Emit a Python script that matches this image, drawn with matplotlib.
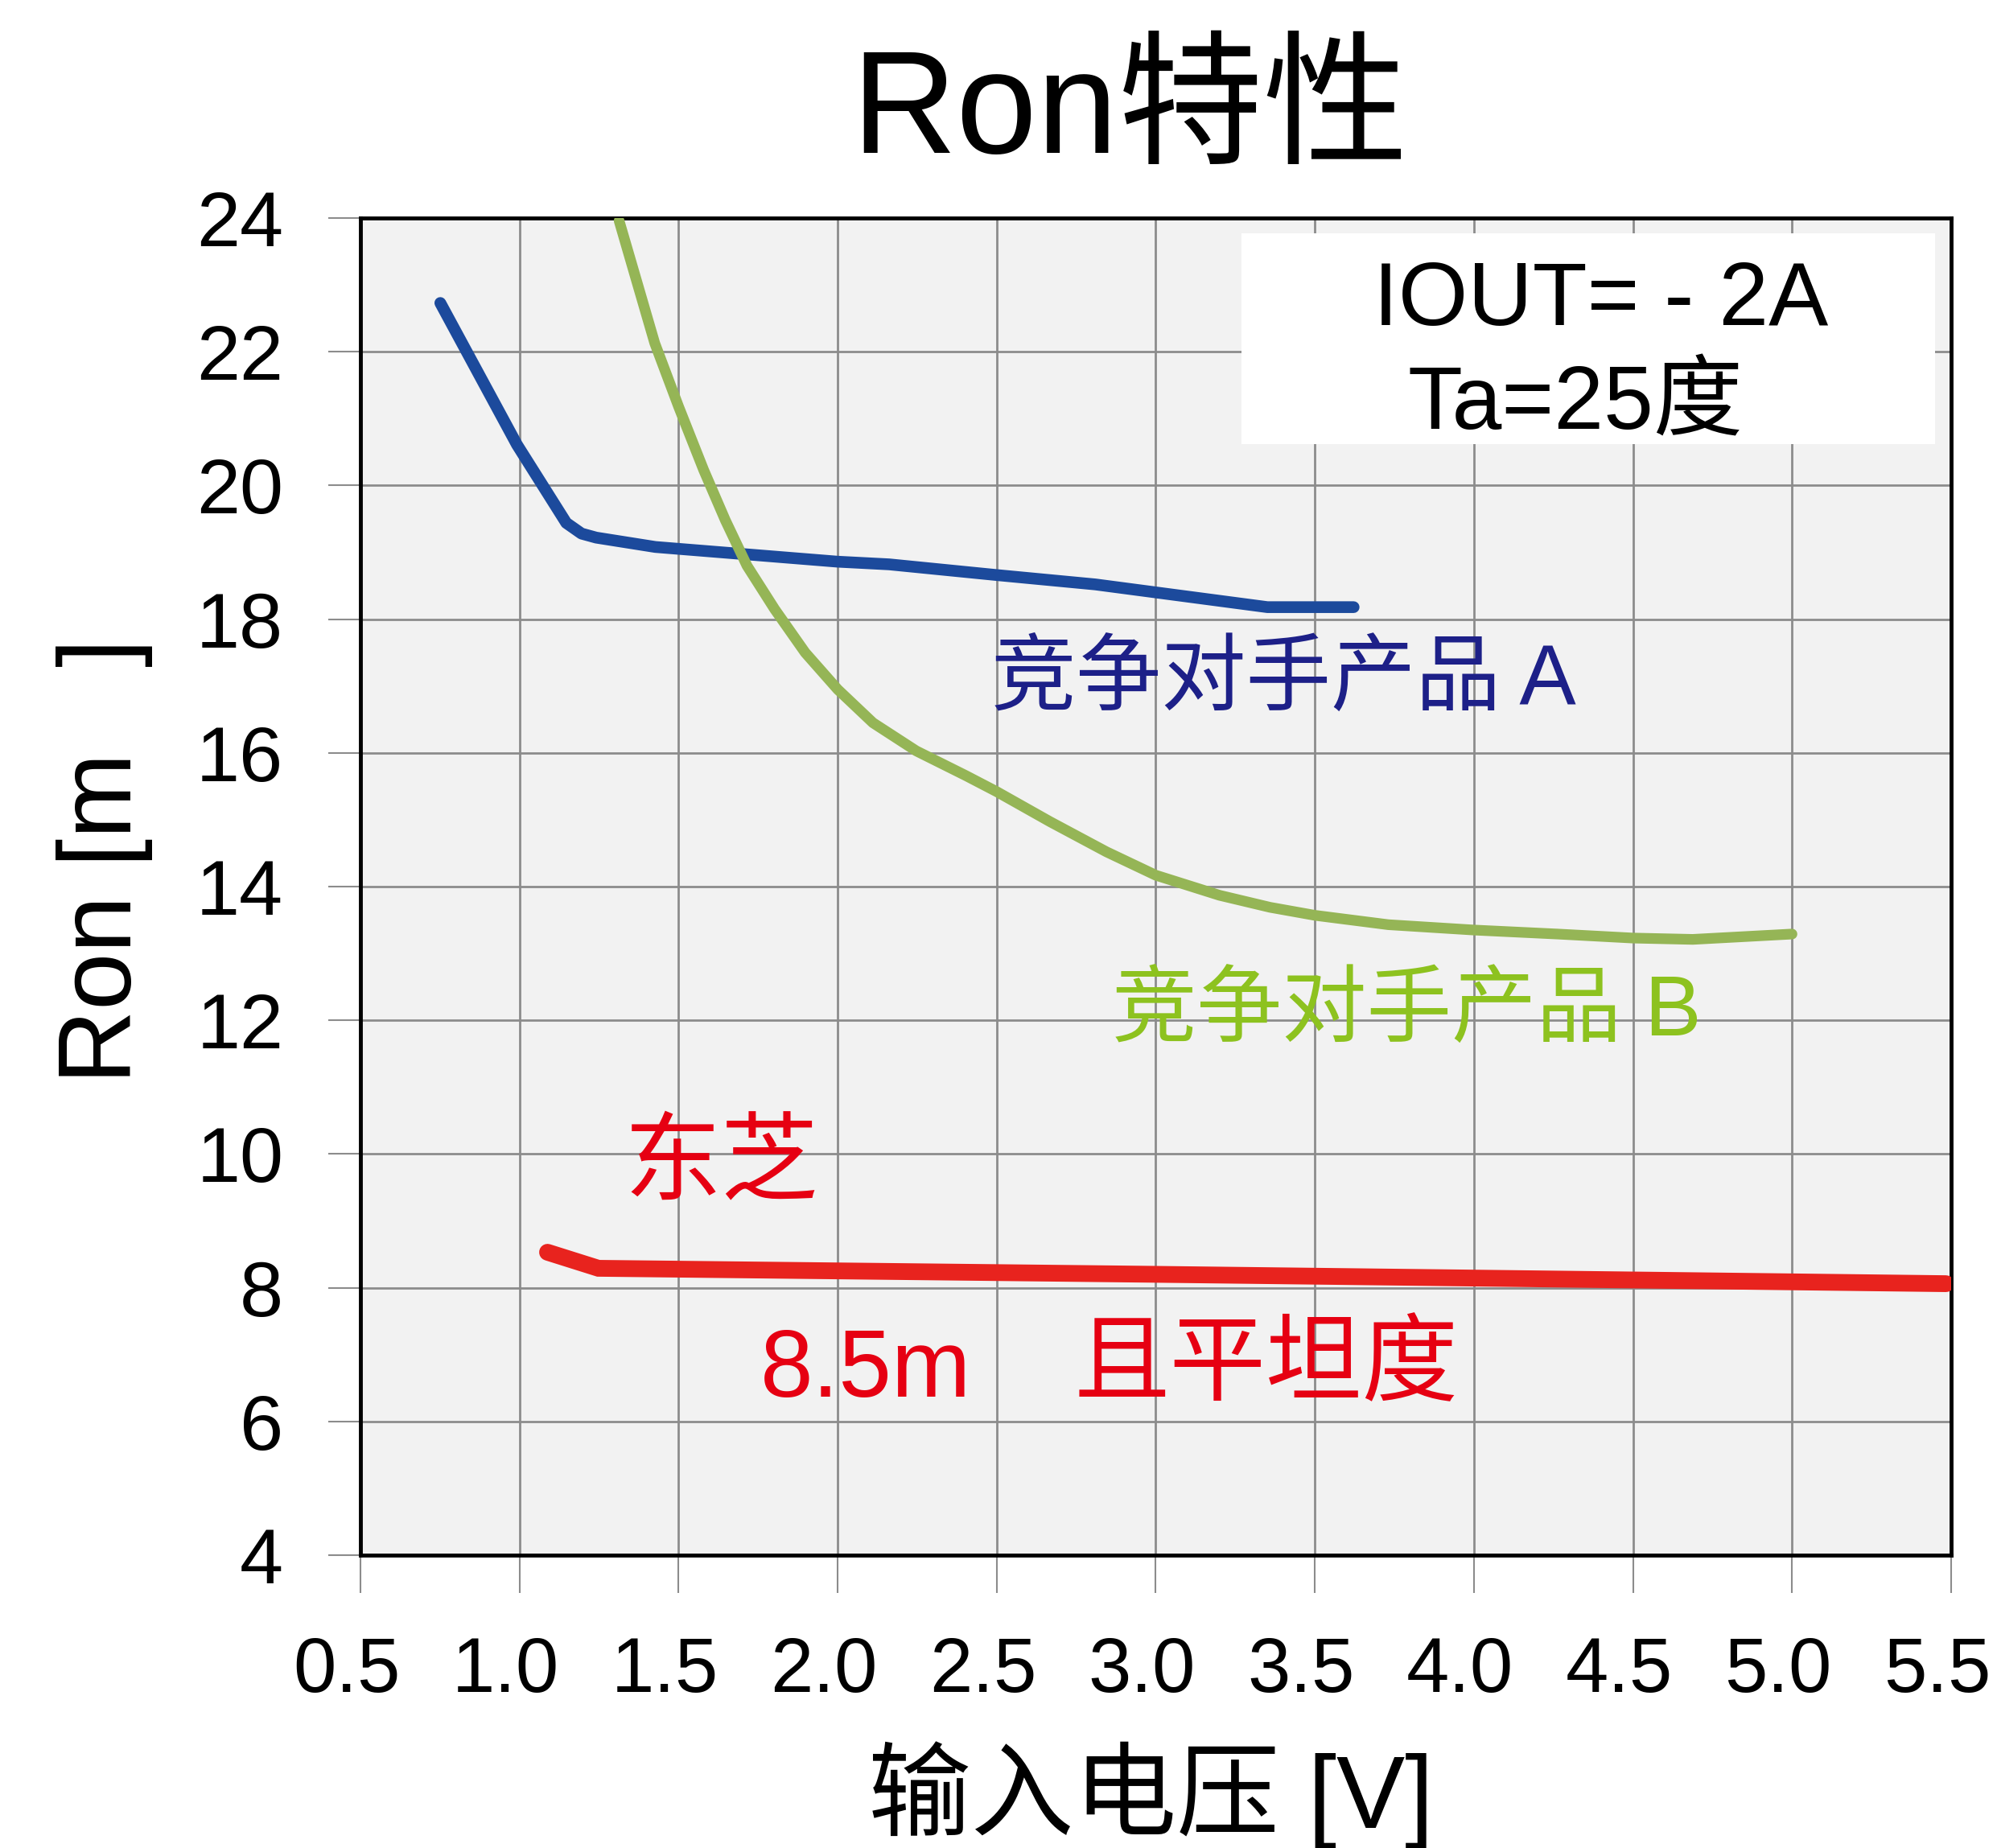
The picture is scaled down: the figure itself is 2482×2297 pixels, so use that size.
import matplotlib.pyplot as plt
from matplotlib import font_manager
from matplotlib.patches import Rectangle
from matplotlib.transforms import ScaledTranslation

# pick a narrow latin face if it is there
names = {f.name for f in font_manager.fontManager.ttflist}
latin = 'Liberation Sans Narrow' if 'Liberation Sans Narrow' in names else 'Liberation Sans'
fam = [latin, 'Noto Sans CJK SC', 'DejaVu Sans']
plt.rcParams['font.family'] = fam

# data
a_x = [0.751, 0.992, 1.147, 1.195, 1.241, 1.427, 2.000, 2.162, 2.500, 2.810, 3.351, 3.622]
a_y = [22.73, 20.61, 19.44, 19.28, 19.22, 19.08, 18.86, 18.82, 18.66, 18.52, 18.18, 18.18]

b_x = [1.313, 1.425, 1.500, 1.579, 1.647, 1.715, 1.802, 1.898, 2.000, 2.111, 2.247,
       2.403, 2.500, 2.668, 2.845, 3.000, 3.200, 3.359, 3.500, 3.731, 4.000, 4.263,
       4.500, 4.688, 5.000]
b_y = [23.96, 22.13, 21.18, 20.23, 19.48, 18.80, 18.15, 17.50, 16.95, 16.45, 16.03,
       15.66, 15.42, 14.97, 14.52, 14.17, 13.87, 13.69, 13.57, 13.43, 13.35, 13.29,
       13.23, 13.21, 13.29]

t_x = [1.088, 1.248, 3.000, 5.484]
t_y = [8.53, 8.29, 8.20, 8.06]

x_ticks = [0.5, 1.0, 1.5, 2.0, 2.5, 3.0, 3.5, 4.0, 4.5, 5.0, 5.5]
y_ticks = [4, 6, 8, 10, 12, 14, 16, 18, 20, 22, 24]

fig = plt.figure(figsize=(24.82, 22.97), dpi=100)
ax = fig.add_axes([0.1805, 0.1585, 0.7965, 0.7235])
ax.set_facecolor('#f2f2f2')

ax.set_xlim(0.5, 5.5)
ax.set_ylim(4, 24)
ax.set_xticks(x_ticks)
ax.set_yticks(y_ticks)
ax.set_xticklabels(['%.1f' % v for v in x_ticks])
ax.grid(True, color='#8c8c8c', linewidth=2.0, zorder=0)
ax.set_axisbelow(True)
ax.tick_params(axis='x', direction='out', length=34, width=1.5, color='#8c8c8c',
               pad=38, labelsize=69)
ax.tick_params(axis='y', direction='out', length=29, width=1.5, color='#8c8c8c',
               pad=40, labelsize=70)
# x labels sit a little left of their ticks in the original
shift = ScaledTranslation(-0.17, 0, fig.dpi_scale_trans)
for lab in ax.get_xticklabels():
    lab.set_transform(lab.get_transform() + shift)
for s in ax.spines.values():
    s.set_color('black')
    s.set_linewidth(3.5)

# condition box
ax.add_patch(Rectangle((3.27, 20.62), 2.18, 3.15, facecolor='white',
                       edgecolor='none', zorder=1))
ax.text(4.40, 22.40, 'IOUT= - 2A', fontsize=80, ha='center', va='baseline', zorder=2)
ax.text(4.32, 20.84, 'Ta=25度', fontsize=80, ha='center', va='baseline', zorder=2)

ax.plot(a_x, a_y, color='#1c4a9c', linewidth=10.5, solid_capstyle='round',
        solid_joinstyle='round', zorder=3)
ax.plot(b_x, b_y, color='#95b556', linewidth=9.5, solid_capstyle='round',
        solid_joinstyle='round', zorder=3)
ax.plot(t_x, t_y, color='#e8231e', linewidth=15, solid_capstyle='round',
        solid_joinstyle='miter', zorder=3)

ax.text(2.482, 17.06, '竞争对手产品 A', color='#1d2088', fontsize=76,
        ha='left', va='center', zorder=4)
ax.text(2.862, 12.11, '竞争对手产品 B', color='#8dc21f', fontsize=76,
        ha='left', va='center', zorder=4)
ax.text(1.329, 9.78, '东芝', color='#e60012', fontsize=87,
        ha='left', va='center', zorder=4)
ax.text(1.757, 6.37, '8.5m', color='#e60012', fontsize=85,
        ha='left', va='baseline', zorder=4)
ax.text(2.742, 6.78, '且平坦度', color='#e60012', fontsize=86,
        ha='left', va='center', zorder=4)

fig.text(1404 / 2482, 1 - 190 / 2297, 'Ron特性', fontsize=130, ha='center',
         va='baseline', family=['Liberation Sans', 'Noto Sans CJK SC'])
fig.text(1430 / 2482, 1 - 2232 / 2297, '输入电压 [V]', fontsize=92, ha='center',
         va='center')
fig.text(130 / 2482, 1 - 1070 / 2297, 'Ron [m   ]', fontsize=92, ha='center',
         va='center', rotation=90, family=['Liberation Sans', 'Noto Sans CJK SC'])

fig.savefig('out.png', dpi=100)
